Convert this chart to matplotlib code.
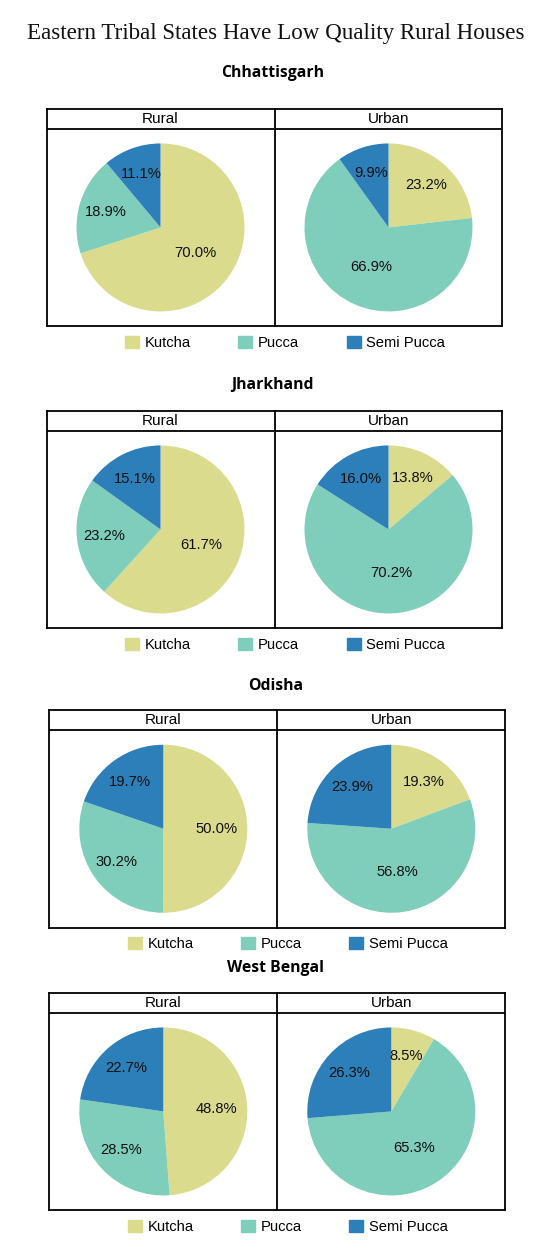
import numpy as np
import matplotlib.pyplot as plt
from matplotlib.patches import Patch

# data
states = ['Chhattisgarh', 'Jharkhand', 'Odisha', 'West Bengal']
house_types = ['Kutcha', 'Pucca', 'Semi Pucca']
areas = ['Rural', 'Urban']
rural_kutcha = [70.0, 61.7, 50.0, 48.8]
rural_pucca = [18.9, 23.2, 30.2, 28.5]
rural_semi = [11.1, 15.1, 19.7, 22.7]
urban_kutcha = [23.2, 13.8, 19.3, 8.5]
urban_pucca = [66.9, 70.2, 56.8, 65.3]
urban_semi = [9.9, 16.0, 23.9, 26.3]

colors = ['#dbdb8d', '#7fcdbb', '#2c7fb8']

W, H = 552, 1256
fig = plt.figure(figsize=(W / 100, H / 100), dpi=100)
fig.patch.set_facecolor('white')

sans = ['Liberation Sans', 'DejaVu Sans']


def px_axes(x, y, w, h):
    return fig.add_axes([x / W, 1 - (y + h) / H, w / W, h / H])


# layout in pixels
box_top = [108.7, 410.7, 710.0, 992.7]
box_left = [46.5, 46.5, 49.3, 49.3]
sub_y = [73, 385, 686, 968]
cell_w, cell_h, head_h = 228, 217.5, 20
radius = 84

fig.text(275.5 / W, 1 - 34 / H, 'Eastern Tribal States Have Low Quality Rural Houses',
         ha='center', va='center', fontsize=16.6, family='Liberation Serif', color='#111111')

for i, state in enumerate(states):
    left, top = box_left[i], box_top[i]
    fig.text((left + cell_w - 2) / W, 1 - sub_y[i] / H, state, ha='center', va='center',
             fontsize=11.3, fontweight='bold', family='Open Sans', color='black')
    values = [[rural_kutcha[i], rural_pucca[i], rural_semi[i]],
              [urban_kutcha[i], urban_pucca[i], urban_semi[i]]]
    for j, area in enumerate(areas):
        ax = px_axes(left + j * cell_w, top, cell_w, cell_h)
        ax.set_xticks([])
        ax.set_yticks([])
        for s in ax.spines.values():
            s.set_linewidth(1.3)
            s.set_color('black')
        if j == 0:
            ax.spines['right'].set_visible(False)
        ax.axhline(cell_h - head_h, color='black', lw=1.3)
        ax.text(cell_w / 2, cell_h - head_h / 2, area, ha='center', va='center',
                fontsize=11, family=sans)
        cx, cy = cell_w / 2, (cell_h - head_h) / 2
        wedges, _ = ax.pie(values[j], colors=colors, startangle=90, counterclock=False,
                           center=(cx, cy), radius=radius, frame=True,
                           wedgeprops=dict(linewidth=0))
        ax.set_xlim(0, cell_w)
        ax.set_ylim(0, cell_h)
        for w, v in zip(wedges, values[j]):
            mid = np.deg2rad((w.theta1 + w.theta2) / 2)
            if v < 40:
                d = 0.68
            elif v < 55:
                d = 0.63
            else:
                d = 0.52
            ax.text(cx + d * radius * np.cos(mid), cy + d * radius * np.sin(mid),
                    '%.1f%%' % v, ha='center', va='center', fontsize=10.6,
                    family=sans, color='#111111')

    handles = [Patch(color=c) for c in colors]
    fig.legend(handles, house_types, loc='center', ncol=3, frameon=False,
               bbox_to_anchor=((left + 238.5) / W, 1 - (top + cell_h + 16.5) / H),
               prop=dict(family=sans, size=10.6), handlelength=0.95, handleheight=0.9,
               handletextpad=0.35, columnspacing=3.25, borderpad=0, borderaxespad=0)

fig.savefig('out.png', dpi=100, facecolor='white')
